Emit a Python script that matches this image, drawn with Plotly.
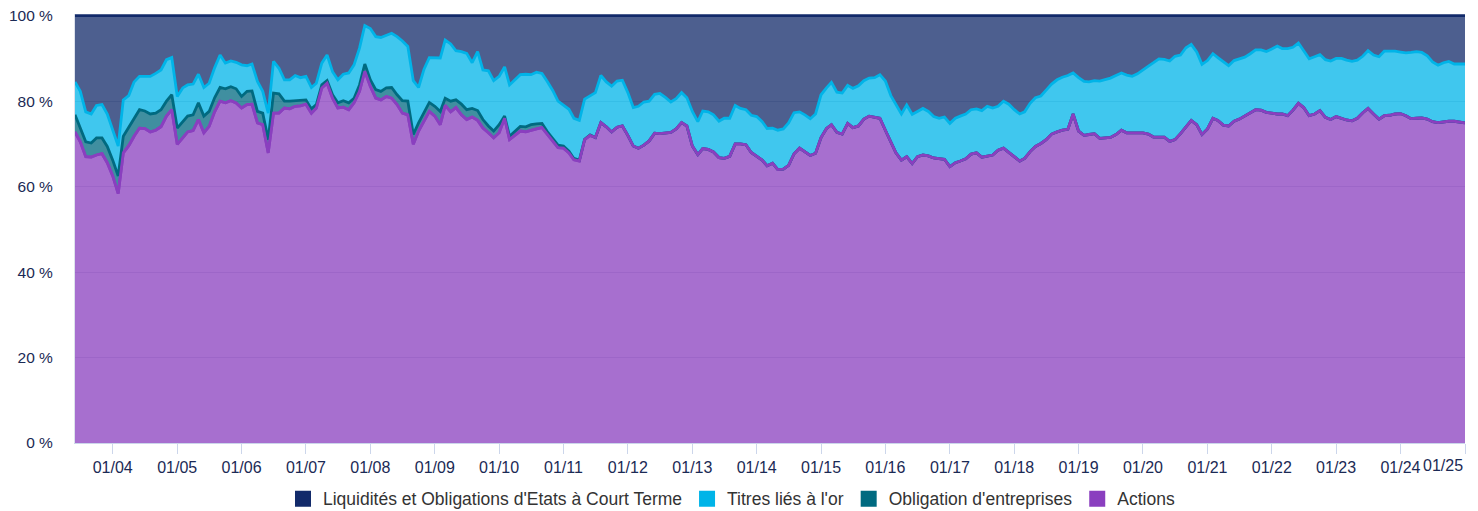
import pandas as pd
import plotly.graph_objects as go

# Monthly observations, June 2003 -> January 2025 (percent of portfolio)
start_month = "2003-06-01"

actions = [
    72.8, 70.5, 67.0, 66.9, 67.4, 67.7, 65.6, 62.5, 58.4, 67.9,
    69.6, 71.8, 73.7, 73.6, 72.8, 73.2, 74.0, 76.5, 78.0, 69.9,
    71.4, 72.8, 73.1, 75.7, 72.6, 74.1, 77.5, 80.0, 79.6, 80.1,
    79.6, 78.4, 79.2, 79.3, 74.9, 74.5, 67.9, 77.2, 77.2, 78.4,
    78.2, 78.8, 78.9, 79.3, 77.2, 78.4, 83.1, 84.2, 80.7, 78.4,
    78.6, 78.0, 79.6, 82.3, 87.0, 83.5, 80.7, 80.3, 81.1, 80.7,
    79.2, 77.2, 76.8, 69.9, 73.0, 75.5, 77.6, 76.5, 74.5, 79.0,
    77.5, 78.5, 76.8, 75.7, 76.3, 75.5, 73.7, 72.6, 71.4, 72.6,
    76.0, 71.0, 72.0, 73.0, 72.8, 73.2, 73.5, 73.8, 72.2, 70.5,
    69.1, 69.0, 67.9, 66.3, 66.0, 71.0, 72.0, 71.5, 75.0, 74.0,
    72.8, 73.9, 74.2, 72.0, 69.5, 69.0, 69.7, 70.7, 72.5, 72.4,
    72.6, 72.7, 73.5, 75.0, 74.2, 69.5, 67.5, 68.9, 68.7, 68.1,
    66.8, 66.6, 67.1, 70.0, 70.0, 69.8, 68.0, 67.1, 66.2, 64.9,
    65.5, 64.0, 64.1, 65.0, 67.7, 69.0, 68.2, 67.3, 67.8, 71.5,
    73.6, 74.5, 72.7, 72.3, 74.8, 73.8, 74.2, 75.8, 76.5, 76.3,
    76.0, 73.2, 70.3, 67.9, 66.2, 67.0, 65.4, 67.0, 67.4, 67.2,
    66.7, 66.6, 66.4, 64.7, 65.6, 66.0, 66.5, 67.6, 67.9, 66.9,
    67.1, 67.4, 68.5, 69.0, 68.0, 66.9, 66.0, 66.6, 68.2, 69.4,
    70.1, 71.0, 72.3, 72.8, 73.2, 73.4, 77.0, 73.0, 72.0, 72.2,
    72.4, 71.3, 71.4, 71.5, 72.2, 73.2, 72.6, 72.6, 72.6, 72.6,
    72.3, 71.6, 71.6, 71.6, 70.6, 71.0, 72.4, 74.0, 75.5, 74.5,
    72.2, 73.5, 76.0, 75.5, 74.4, 74.2, 75.3, 75.8, 76.6, 77.3,
    78.0, 77.9, 77.4, 77.2, 77.0, 77.0, 76.6, 77.9, 79.5, 78.5,
    76.6, 77.0, 77.8, 76.2, 75.7, 76.4, 76.0, 75.6, 75.4, 76.0,
    77.3, 78.3, 77.0, 75.8, 76.6, 76.7, 77.0, 77.1, 76.6, 75.9,
    76.0, 76.1, 75.8, 75.2, 75.0, 75.2, 75.3, 75.3, 75.1, 74.9,
]

obligations = [
    4.0, 3.4, 3.5, 3.3, 4.0, 3.7, 3.8, 3.7, 4.1, 3.9,
    4.4, 4.2, 4.3, 4.1, 4.2, 4.0, 4.0, 3.5, 3.5, 3.8,
    3.9, 3.7, 3.7, 3.9, 3.9, 3.5, 3.3, 3.2, 3.3, 3.3,
    3.3, 2.7, 3.1, 3.1, 2.7, 2.7, 3.1, 4.7, 4.5, 1.6,
    1.8, 1.3, 1.2, 1.0, 1.0, 0.8, 0.7, 0.6, 0.8, 1.2,
    1.5, 1.6, 1.1, 1.5, 1.7, 1.5, 2.0, 2.0, 2.0, 2.5,
    2.3, 2.9, 3.2, 2.3, 1.9, 2.0, 2.1, 2.3, 3.1, 1.7,
    2.5, 1.8, 2.5, 2.3, 2.0, 2.3, 2.0, 1.6, 1.6, 1.9,
    0.5, 0.8, 1.0, 1.1, 1.2, 1.3, 1.2, 1.0, 0.7, 0.7,
    0.6, 0.5, 0.4, 0.3, 0.2, 0.1, 0.1, 0.0, 0.0, 0.0,
    0.0, 0.0, 0.0, 0.0, 0.0, 0.0, 0.0, 0.0, 0.0, 0.0,
    0.0, 0.0, 0.0, 0.0, 0.0, 0.0, 0.0, 0.0, 0.0, 0.0,
    0.0, 0.0, 0.0, 0.0, 0.0, 0.0, 0.0, 0.0, 0.0, 0.0,
    0.0, 0.0, 0.0, 0.0, 0.0, 0.0, 0.0, 0.0, 0.0, 0.0,
    0.0, 0.0, 0.0, 0.0, 0.0, 0.0, 0.0, 0.0, 0.0, 0.0,
    0.0, 0.0, 0.0, 0.0, 0.0, 0.0, 0.0, 0.0, 0.0, 0.0,
    0.0, 0.0, 0.0, 0.0, 0.0, 0.0, 0.0, 0.0, 0.0, 0.0,
    0.0, 0.0, 0.0, 0.0, 0.0, 0.0, 0.0, 0.0, 0.0, 0.0,
    0.0, 0.0, 0.0, 0.0, 0.0, 0.0, 0.0, 0.0, 0.0, 0.0,
    0.0, 0.0, 0.0, 0.0, 0.0, 0.0, 0.0, 0.0, 0.0, 0.0,
    0.0, 0.0, 0.0, 0.0, 0.0, 0.0, 0.0, 0.0, 0.0, 0.0,
    0.0, 0.0, 0.0, 0.0, 0.0, 0.0, 0.0, 0.0, 0.0, 0.0,
    0.0, 0.0, 0.0, 0.0, 0.0, 0.0, 0.0, 0.0, 0.0, 0.0,
    0.0, 0.0, 0.0, 0.0, 0.0, 0.0, 0.0, 0.0, 0.0, 0.0,
    0.0, 0.0, 0.0, 0.0, 0.0, 0.0, 0.0, 0.0, 0.0, 0.0,
    0.0, 0.0, 0.0, 0.0, 0.0, 0.0, 0.0, 0.0, 0.0, 0.0,
]

or_titres = [
    7.7, 8.4, 7.0, 6.8, 7.6, 7.8, 7.6, 6.8, 7.0, 8.5,
    7.3, 8.5, 7.8, 8.1, 8.8, 9.3, 9.3, 9.7, 8.7, 7.4,
    7.8, 7.3, 7.2, 6.7, 6.7, 6.6, 7.0, 7.6, 6.0, 6.0,
    6.2, 7.4, 6.0, 6.3, 7.0, 5.1, 6.2, 7.4, 6.0, 5.0,
    5.0, 5.9, 5.4, 5.5, 5.0, 5.0, 5.1, 6.0, 5.4, 5.4,
    6.2, 7.0, 7.8, 8.6, 9.0, 12.0, 12.4, 12.6, 12.4, 12.7,
    13.6, 14.0, 12.8, 12.6, 8.3, 10.0, 10.5, 11.3, 12.5, 13.6,
    13.4, 11.5, 12.3, 13.2, 10.7, 13.8, 11.6, 12.9, 11.8, 11.3,
    11.5, 12.0, 12.0, 12.1, 12.3, 11.7, 12.1, 11.7, 11.7, 11.3,
    10.3, 9.5, 9.8, 9.4, 9.3, 9.4, 9.1, 10.5, 11.0, 10.5,
    10.7, 10.8, 10.7, 10.0, 9.0, 9.8, 10.1, 9.3, 9.1, 9.4,
    8.3, 7.1, 7.1, 7.0, 6.6, 8.1, 7.7, 8.8, 8.8, 8.7,
    8.5, 9.4, 8.9, 9.0, 8.3, 8.2, 8.7, 9.3, 9.0, 8.7,
    8.2, 9.2, 9.4, 9.9, 9.6, 8.5, 8.6, 8.6, 9.2, 10.0,
    9.5, 9.9, 9.4, 9.6, 8.9, 9.2, 9.4, 9.0, 8.9, 9.2,
    10.2, 11.5, 11.0, 11.3, 10.8, 12.1, 11.5, 10.6, 10.9, 10.4,
    9.7, 9.4, 9.9, 10.1, 10.4, 10.5, 10.5, 10.4, 10.3, 10.9,
    11.7, 11.0, 10.3, 11.0, 11.3, 11.1, 11.0, 10.9, 11.3, 11.4,
    11.1, 11.6, 11.7, 12.2, 12.4, 12.6, 9.6, 12.5, 12.6, 12.3,
    12.4, 13.4, 13.6, 13.9, 13.8, 13.4, 13.5, 13.2, 13.8, 14.6,
    15.9, 17.4, 18.3, 18.2, 18.8, 19.5, 18.4, 18.5, 17.8, 17.0,
    16.4, 16.0, 15.1, 14.7, 14.8, 14.1, 14.2, 14.1, 13.7, 13.8,
    14.0, 14.1, 14.2, 15.0, 15.9, 15.3, 15.7, 14.7, 14.1, 13.3,
    13.3, 13.4, 13.1, 13.5, 13.7, 13.6, 14.0, 14.0, 13.9, 13.6,
    13.2, 13.5, 13.8, 14.6, 15.1, 15.0, 14.7, 14.4, 14.7, 15.5,
    15.6, 15.3, 14.8, 14.0, 13.4, 13.8, 14.0, 13.4, 13.6, 13.8,
]

liquidites = [
    15.5, 17.7, 22.5, 23.0, 21.0, 20.8, 23.0, 27.0, 30.5, 19.7,
    18.7, 15.5, 14.2, 14.2, 14.2, 13.5, 12.7, 10.3, 9.8, 18.9,
    16.9, 16.2, 16.0, 13.7, 16.8, 15.8, 12.2, 9.2, 11.1, 10.6,
    10.9, 11.5, 11.7, 11.3, 15.4, 17.7, 22.8, 10.7, 12.3, 15.0,
    15.0, 14.0, 14.5, 14.2, 16.8, 15.8, 11.1, 9.2, 13.1, 15.0,
    13.7, 13.4, 11.5, 7.6, 2.3, 3.0, 4.9, 5.1, 4.5, 4.1,
    4.9, 5.9, 7.2, 15.2, 16.8, 12.5, 9.8, 9.9, 9.9, 5.7,
    6.6, 8.2, 8.4, 8.8, 11.0, 8.4, 12.7, 12.9, 15.2, 14.2,
    12.0, 16.2, 15.0, 13.8, 13.7, 13.8, 13.2, 13.5, 15.4, 17.5,
    20.0, 21.0, 21.9, 24.0, 24.5, 19.5, 18.8, 18.0, 14.0, 15.5,
    16.5, 15.3, 15.1, 18.0, 21.5, 21.2, 20.2, 20.0, 18.4, 18.2,
    19.1, 20.2, 19.4, 18.0, 19.2, 22.4, 24.8, 22.3, 22.5, 23.2,
    24.7, 24.0, 24.0, 21.0, 21.7, 22.0, 23.3, 23.6, 24.8, 26.4,
    26.3, 26.8, 26.5, 25.1, 22.7, 22.5, 23.2, 24.1, 23.0, 18.5,
    16.9, 15.6, 17.9, 18.1, 16.3, 17.0, 16.4, 15.2, 14.6, 14.5,
    13.8, 15.3, 18.7, 20.8, 23.0, 20.9, 23.1, 22.4, 21.7, 22.4,
    23.6, 24.0, 23.7, 25.2, 24.0, 23.5, 23.0, 22.0, 21.8, 22.2,
    21.2, 21.6, 21.2, 20.0, 20.7, 22.0, 23.0, 22.5, 20.5, 19.2,
    18.8, 17.4, 16.0, 15.0, 14.4, 14.0, 13.4, 14.5, 15.4, 15.5,
    15.2, 15.3, 15.0, 14.6, 14.0, 13.4, 13.9, 14.2, 13.6, 12.8,
    11.8, 11.0, 10.1, 10.2, 10.6, 9.5, 9.2, 7.5, 6.7, 8.5,
    11.4, 10.5, 8.9, 9.8, 10.8, 11.7, 10.5, 10.1, 9.7, 8.9,
    8.0, 8.0, 8.4, 7.8, 7.1, 7.7, 7.7, 7.4, 6.4, 8.2,
    10.1, 9.6, 9.1, 10.3, 10.6, 10.0, 10.0, 10.4, 10.7, 10.4,
    9.5, 8.2, 9.2, 9.6, 8.3, 8.3, 8.3, 8.5, 8.7, 8.6,
    8.4, 8.6, 9.4, 10.8, 11.6, 11.0, 10.7, 11.3, 11.3, 11.3,
]

series_names = [
    "Liquidités et Obligations d'Etats à Court Terme",
    "Titres liés à l'or",
    "Obligation d'entreprises",
    "Actions",
]
series_colors = ["#122a6a", "#00b4e8", "#006a80", "#8a3fbf"]

tick_years = list(range(2004, 2026))
tick_labels = ["01/04", "01/05", "01/06", "01/07", "01/08", "01/09", "01/10",
               "01/11", "01/12", "01/13", "01/14", "01/15", "01/16", "01/17",
               "01/18", "01/19", "01/20", "01/21", "01/22", "01/23", "01/24", ""]
last_tick_label = "01/25"
y_ticks = [0, 20, 40, 60, 80, 100]
y_labels = ["0 %", "20 %", "40 %", "60 %", "80 %", "100 %"]

dates = pd.date_range(start_month, periods=len(actions), freq="MS")
tick_dates = [pd.Timestamp(f"{y}-01-01") for y in tick_years]

FONT = "Liberation Sans, Arial, sans-serif"


def rgba(hex_color, a):
    h = hex_color.lstrip("#")
    r, g, b = int(h[0:2], 16), int(h[2:4], 16), int(h[4:6], 16)
    return f"rgba({r},{g},{b},{a})"


fig = go.Figure()

# stacked areas, bottom to top
stack = [
    (series_names[3], actions, series_colors[3]),
    (series_names[2], obligations, series_colors[2]),
    (series_names[1], or_titres, series_colors[1]),
    (series_names[0], liquidites, series_colors[0]),
]
for name, vals, col in stack:
    fig.add_trace(go.Scatter(
        x=dates, y=vals, name=name, stackgroup="one", mode="lines",
        line=dict(color=col, width=2.8), fillcolor=rgba(col, 0.75),
        showlegend=False, hoverinfo="skip",
    ))

# Actions line drawn on top (as in the reference)
fig.add_trace(go.Scatter(
    x=dates, y=actions, mode="lines", line=dict(color=series_colors[3], width=2.8),
    showlegend=False, hoverinfo="skip",
))

# legend entries
for k, (name, col) in enumerate(zip(series_names, series_colors)):
    fig.add_trace(go.Scatter(
        x=[None], y=[None], mode="markers", name=name, legendgroup=f"g{k}",
        marker=dict(symbol="square", size=20, color=col),
    ))

fig.add_annotation(
    x=tick_dates[-1], y=0, xref="x", yref="paper", text=last_tick_label,
    showarrow=False, xanchor="right", yanchor="top", yshift=-12,
    font=dict(family=FONT, size=16, color="#1b2a55"),
)

fig.update_layout(
    width=1470, height=503,
    margin=dict(l=67, r=13, t=6, b=68, autoexpand=False),
    paper_bgcolor="white", plot_bgcolor="white",
    font=dict(family=FONT, size=16, color="#1b2a55"),
    showlegend=True,
    legend=dict(
        orientation="h", x=0.4723, xanchor="center", y=-0.088, yanchor="top",
        traceorder="normal", tracegroupgap=7,
        font=dict(size=17.5, color="#333333"), itemwidth=30,
        bgcolor="rgba(0,0,0,0)",
    ),
    xaxis=dict(
        type="date", range=[dates[0], dates[-1]], automargin=False,
        tickmode="array", tickvals=tick_dates, ticktext=tick_labels,
        ticks="outside", ticklen=10, tickcolor="#ccd6eb", tickwidth=1,
        showline=True, linecolor="#ccd6eb", linewidth=1,
        showgrid=False, zeroline=False,
        tickfont=dict(size=16, color="#1b2a55"),
    ),
    yaxis=dict(
        range=[0, 100.4], tickmode="array", tickvals=y_ticks, ticktext=y_labels,
        automargin=False, ticklabeloverflow="allow",
        ticks="outside", ticklen=18, tickcolor="rgba(0,0,0,0)",
        showgrid=True, gridcolor="#d6d9e2", gridwidth=1,
        showline=True, linecolor="#dde2ec", linewidth=1,
        zeroline=False, tickfont=dict(size=15.5, color="#1b2a55"),
    ),
)

fig.write_html("out.html")
